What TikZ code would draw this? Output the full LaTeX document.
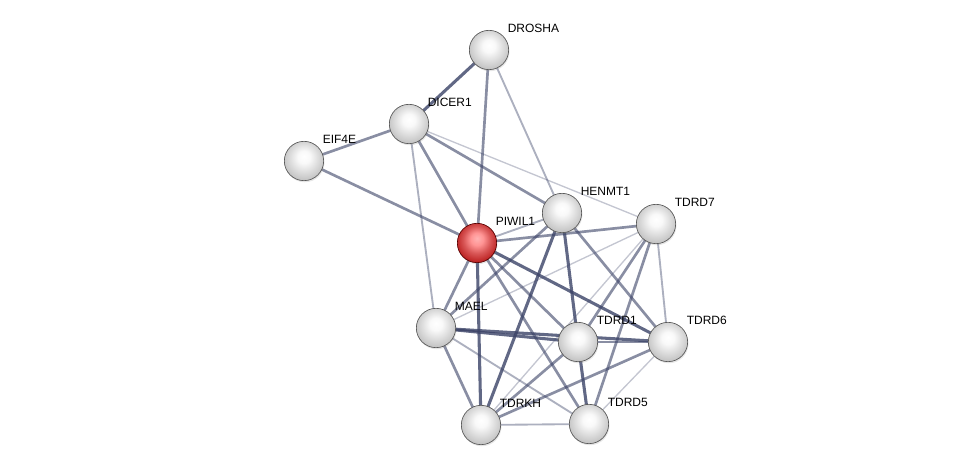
\documentclass[tikz,border=0pt]{standalone}
\usepackage{fontspec}
\setmainfont{Liberation Sans}
\usetikzlibrary{backgrounds,shadows}
\definecolor{edgeblue}{RGB}{58,66,102}
\pgfdeclareradialshading{greysphere}{\pgfpoint{0bp}{6bp}}{%
  color(0bp)=(white); color(8bp)=(white!95!gray); color(17bp)=(gray!25);
  color(26bp)=(gray!45); color(31bp)=(gray!55); color(50bp)=(gray!55)}
\pgfdeclareradialshading{redsphere}{\pgfpoint{0bp}{6bp}}{%
  color(0bp)=(red!30!white); color(8bp)=(red!42!white); color(17bp)=(red!60!white!85!black);
  color(26bp)=(red!70!black!85); color(31bp)=(red!50!black); color(50bp)=(red!50!black)}

\begin{document}
\begin{tikzpicture}[x=0.75pt, y=-0.75pt,
    prot/.style={circle, minimum size=29.5pt, inner sep=0pt, shading=greysphere,
      draw=gray!70!black, line width=0.5pt,
      drop shadow={opacity=0.2, shadow xshift=0.6pt, shadow yshift=-1.2pt},
      label={[lbl]45:#1}},
    query/.style={prot=#1, shading=redsphere, draw=red!35!black},
    lbl/.style={font=\fontsize{9}{10}\selectfont, inner sep=1pt,
      label distance=-1pt, xshift=3pt, yshift=2pt},
    strong/.style={draw=edgeblue, line width=2.3pt, opacity=0.8},
    mid/.style={draw=edgeblue, line width=2pt, opacity=0.6},
    weak/.style={draw=edgeblue, line width=1.4pt, opacity=0.42},
    faint/.style={draw=edgeblue, line width=1pt, opacity=0.3}]
  \useasboundingbox (0,0) rectangle (976,470);
  % proteins
  \node[prot=DROSHA] (drosha) at (489,50) {};
  \node[prot=DICER1] (dicer) at (409,124) {};
  \node[prot=EIF4E] (eif) at (304,161) {};
  \node[query=PIWIL1] (piwil) at (477,243) {};
  \node[prot=HENMT1] (henmt) at (562,213) {};
  \node[prot=TDRD7] (tdrdvii) at (656,224) {};
  \node[prot=MAEL] (mael) at (436,328) {};
  \node[prot=TDRD1] (tdrdi) at (578,342) {};
  \node[prot=TDRD6] (tdrdvi) at (668,342) {};
  \node[prot=TDRKH] (tdrkh) at (481,425) {};
  \node[prot=TDRD5] (tdrdv) at (589,424) {};
  % interactions, behind the balls
  \begin{pgfonlayer}{background}
    \draw[strong] (drosha.center) -- (dicer.center);
    \draw[mid] (drosha.center) -- (piwil.center);
    \draw[weak] (drosha.center) -- (henmt.center);
    \draw[mid] (dicer.center) -- (eif.center);
    \draw[mid] (dicer.center) -- (piwil.center);
    \draw[mid] (dicer.center) -- (henmt.center);
    \draw[faint] (dicer.center) -- (tdrdvii.center);
    \draw[weak] (dicer.center) -- (mael.center);
    \draw[mid] (eif.center) -- (piwil.center);
    % PIWIL1
    \draw[weak] (piwil.center) -- (henmt.center);
    \draw[mid] (piwil.center) -- (tdrdvii.center);
    \draw[mid] (piwil.center) -- (mael.center);
    \draw[strong] (piwil.center) -- (tdrkh.center);
    \draw[mid] (piwil.center) -- (tdrdi.center);
    \draw[strong] (piwil.center) -- (tdrdvi.center);
    \draw[mid] (piwil.center) -- (tdrdv.center);
    % HENMT1
    \draw[mid] (henmt.center) -- (mael.center);
    \draw[strong] (henmt.center) -- (tdrkh.center);
    \draw[strong] (henmt.center) -- (tdrdi.center);
    \draw[mid] (henmt.center) -- (tdrdvi.center);
    % MAEL
    \draw[faint] (mael.center) -- (tdrdvii.center);
    \draw[strong] (mael.center) -- (tdrdi.center);
    \draw[strong] (mael.center) -- (tdrdvi.center);
    \draw[mid] (mael.center) -- (tdrkh.center);
    \draw[weak] (mael.center) -- (tdrdv.center);
    % TDRD7
    \draw[mid] (tdrdvii.center) -- (tdrdi.center);
    \draw[weak] (tdrdvii.center) -- (tdrdvi.center);
    \draw[mid] (tdrdvii.center) -- (tdrdv.center);
    \draw[faint] (tdrdvii.center) -- (tdrkh.center);
    % lower group
    \draw[mid] (tdrdi.center) -- (tdrdvi.center);
    \draw[mid] (tdrdi.center) -- (tdrkh.center);
    \draw[strong] (tdrdi.center) -- (tdrdv.center);
    \draw[mid] (tdrdvi.center) -- (tdrkh.center);
    \draw[faint] (tdrdvi.center) -- (tdrdv.center);
    \draw[weak] (tdrkh.center) -- (tdrdv.center);
  \end{pgfonlayer}
\end{tikzpicture}
\end{document}
